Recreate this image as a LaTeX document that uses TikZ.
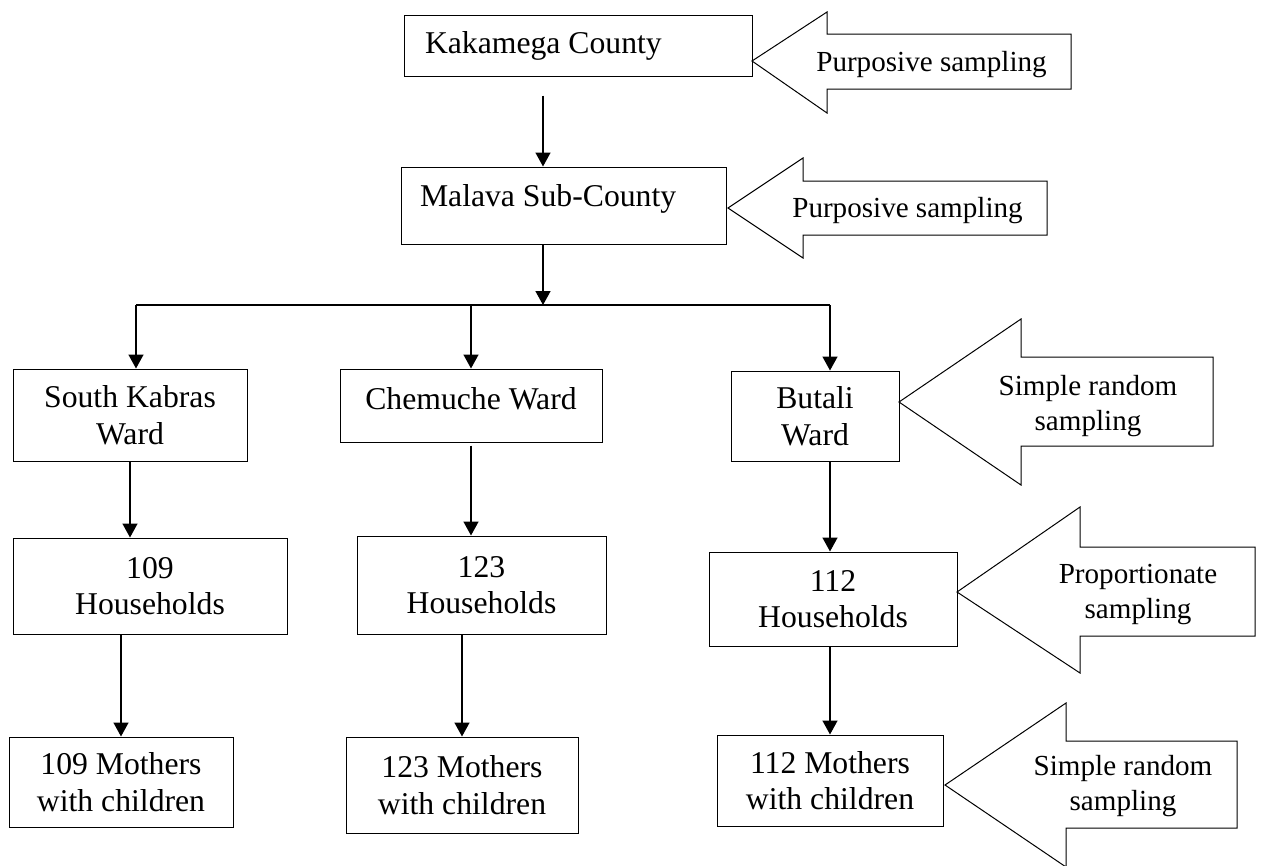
\documentclass[tikz,border=0pt]{standalone}
\usepackage{fontspec}
\setmainfont{Liberation Serif}
\usetikzlibrary{arrows.meta}
\newcommand{\boxfont}{\fontsize{31.7pt}{36.5pt}\selectfont}
\newcommand{\tagfont}{\fontsize{29.1pt}{35pt}\selectfont}

\begin{document}
\begin{tikzpicture}[x=1pt,y=-1pt,
    box/.style={draw,line width=1pt,font=\boxfont,align=center,inner sep=0pt},
    link/.style={line width=1.5pt,-{Triangle[length=14pt,width=15pt]}},
    bigarrow/.style={draw,line width=1pt,line join=miter},
    tag/.style={font=\tagfont,align=center,inner sep=0pt}]
    \path[use as bounding box,fill=white] (0,0) rectangle (1261,865);
    %levels
    \node[box,minimum width=348pt,minimum height=61pt,text width=306pt,align=flush left,inner xsep=21pt] (kakamega) at (578,45.5) {Kakamega County};
    \node[box,minimum width=325pt,minimum height=77pt,text width=287pt,align=flush left,inner xsep=19pt,text depth=20pt] (malava) at (563.5,205.5) {Malava Sub-County};
    \node[box,minimum width=234pt,minimum height=92pt] (kabras) at (130,415) {South Kabras\\Ward};
    \node[box,minimum width=262pt,minimum height=73pt,text depth=14pt] (chemuche) at (471,405.5) {Chemuche Ward};
    \node[box,minimum width=168pt,minimum height=90pt] (butali) at (815,416) {Butali\\Ward};
    \node[box,minimum width=274pt,minimum height=96pt] (hh109) at (150,586) {109\\Households};
    \node[box,minimum width=249pt,minimum height=98pt] (hh123) at (481.5,585) {123\\Households};
    \node[box,minimum width=248pt,minimum height=94pt] (hh112) at (833,599) {112\\Households};
    \node[box,minimum width=224pt,minimum height=90pt] (mo109) at (121,782) {109 Mothers\\with children};
    \node[box,minimum width=232pt,minimum height=96pt] (mo123) at (462,785) {123 Mothers\\with children};
    \node[box,minimum width=226pt,minimum height=91pt] (mo112) at (830,780.5) {112 Mothers\\with children};
    %sampling
    \draw[bigarrow] (752,61) -- (827,12) -- (827,34) -- (1071,34) -- (1071,89) -- (827,89) -- (827,113) -- cycle;
    \draw[bigarrow] (728,208) -- (803,158) -- (803,181) -- (1047,181) -- (1047,235) -- (803,235) -- (803,258) -- cycle;
    \draw[bigarrow] (899,402) -- (1021,319) -- (1021,357) -- (1213,357) -- (1213,446) -- (1021,446) -- (1021,485) -- cycle;
    \draw[bigarrow] (957,592) -- (1080,507) -- (1080,547) -- (1255,547) -- (1255,636) -- (1080,636) -- (1080,673) -- cycle;
    \draw[bigarrow] (945,785) -- (1066,703) -- (1066,741) -- (1237,741) -- (1237,828) -- (1066,828) -- (1066,867) -- cycle;
    \node[tag] (purp1) at (931.5,65) {Purposive sampling};
    \node[tag] (purp2) at (907.5,211) {Purposive sampling};
    \node[tag] (srs1) at (1088,406) {Simple random\\sampling};
    \node[tag] (prop) at (1138,594) {Proportionate\\sampling};
    \node[tag] (srs2) at (1123,786) {Simple random\\sampling};
    %links
    \coordinate (split) at (543,305);
    \draw[link] ([xshift=-35pt,yshift=-19pt]kakamega.south) -- ([xshift=-35pt]kakamega.south |- malava.north);
    \draw[link] ([xshift=-20.5pt]malava.south) -- (split);
    \draw[line width=1.5pt] ([xshift=6pt]kabras.north |- split) -- ([xshift=15pt]butali.north |- split);
    \draw[link] ([xshift=6pt]kabras.north |- split) -- ([xshift=6pt]kabras.north);
    \draw[link] (chemuche.north |- split) -- (chemuche.north);
    \draw[link] ([xshift=15pt]butali.north |- split) -- ([xshift=15pt]butali.north);
    \draw[link] (kabras.south) -- (kabras.south |- hh109.north);
    \draw[link] ([yshift=-3pt]chemuche.south) -- (chemuche.south |- hh123.north);
    \draw[link] ([xshift=15pt]butali.south) -- ([xshift=15pt]butali.south |- hh112.north);
    \draw[link] (hh109.south -| mo109.north) -- (mo109.north);
    \draw[link] (hh123.south -| mo123.north) -- (mo123.north);
    \draw[link] (hh112.south -| mo112.north) -- (mo112.north);
\end{tikzpicture}
\end{document}
